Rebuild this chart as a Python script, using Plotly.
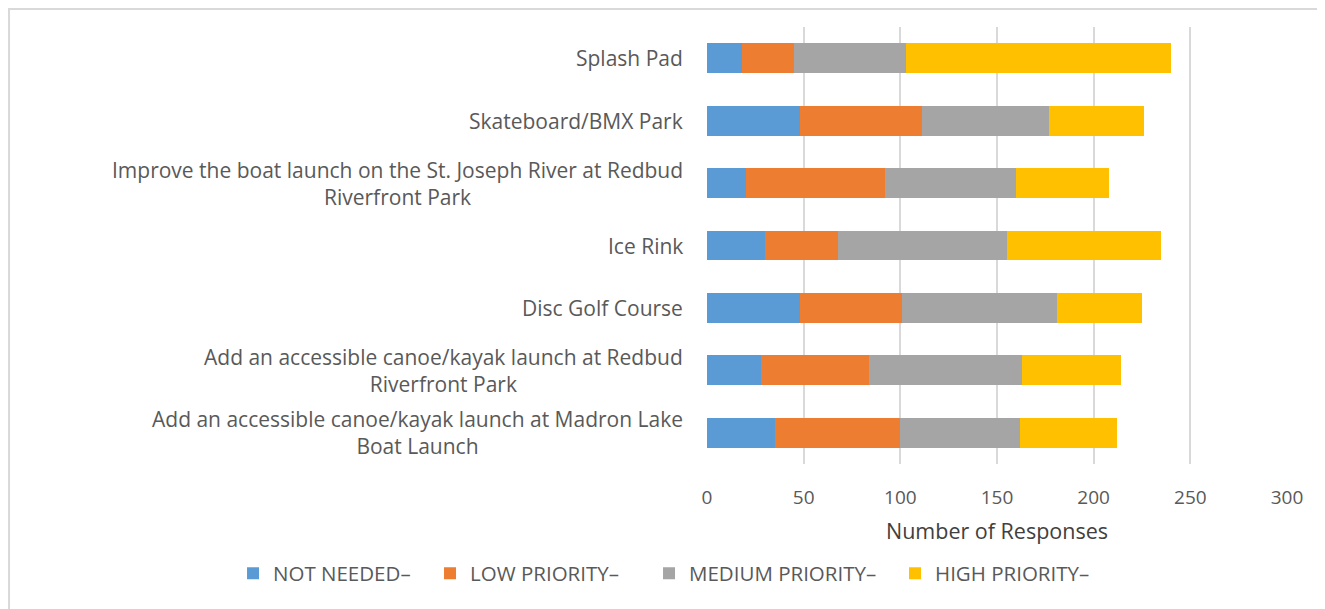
import plotly.graph_objects as go

categories = [
    "Add an accessible canoe/kayak launch at Madron Lake<br>Boat Launch",
    "Add an accessible canoe/kayak launch at Redbud<br>Riverfront Park",
    "Disc Golf Course",
    "Ice Rink",
    "Improve the boat launch on the St. Joseph River at Redbud<br>Riverfront Park",
    "Skateboard/BMX Park",
    "Splash Pad",
]
not_needed = [35, 28, 48, 30, 20, 48, 18]
low_priority = [65, 56, 53, 38, 72, 63, 27]
medium_priority = [62, 79, 80, 87, 68, 66, 58]
high_priority = [50, 51, 44, 80, 48, 49, 137]
series_names = ["NOT NEEDED\u2013", "LOW PRIORITY\u2013", "MEDIUM PRIORITY\u2013", "HIGH PRIORITY\u2013"]
x_ticks = [0, 50, 100, 150, 200, 250, 300]

# styles
colors = ["#5B9BD5", "#ED7D31", "#A5A5A5", "#FFC000"]
legend_entry_widths = [152, 174, 201, 165]
FONT = "Open Sans"
TXT = "#595959"

fig = go.Figure()
for name, vals, col, lw in zip(series_names, [not_needed, low_priority, medium_priority, high_priority],
                               colors, legend_entry_widths):
    fig.add_trace(go.Bar(
        y=categories, x=vals, name=name, orientation="h",
        marker=dict(color=col, line=dict(width=0)), legendwidth=lw,
    ))

for c in categories:
    fig.add_annotation(
        x=-0.038, xref="paper", y=c, yref="y", text=c, showarrow=False,
        xanchor="right", yanchor="middle", align="center",
        font=dict(family=FONT, size=21, color=TXT),
    )

# chart-area border (page body has an 8px offset)
fig.add_shape(type="rect", xref="paper", yref="paper",
              x0=-1.2034, x1=1.0586, y0=-0.40, y1=1.0412,
              line=dict(color="#D9D9D9", width=2), fillcolor="rgba(0,0,0,0)", layer="below")

fig.update_layout(
    width=1317, height=601,
    margin=dict(l=699, r=38, t=19, b=145, autoexpand=False),
    barmode="stack", bargap=0.52,
    plot_bgcolor="white", paper_bgcolor="white",
    font=dict(family=FONT, color=TXT),
    xaxis=dict(
        range=[0, 300], tickvals=x_ticks, showgrid=True, gridcolor="#D9D9D9", gridwidth=2,
        zeroline=False, showline=False, ticks="", ticklabelstandoff=20, automargin=False,
        tickfont=dict(family=FONT, size=19, color=TXT),
        title=dict(text="Number of Responses", font=dict(family=FONT, size=21.5, color="#404040"), standoff=14),
    ),
    yaxis=dict(showticklabels=False, showgrid=False, zeroline=False, showline=False, automargin=False,
               categoryorder="array", categoryarray=categories),
    legend=dict(orientation="h", x=-0.8172, xref="paper", xanchor="left",
                y=-0.2506, yref="paper", yanchor="middle",
                font=dict(family=FONT, size=20.5, color=TXT), traceorder="normal",
                itemwidth=30),
    showlegend=True,
)

fig.write_html("out.html")
